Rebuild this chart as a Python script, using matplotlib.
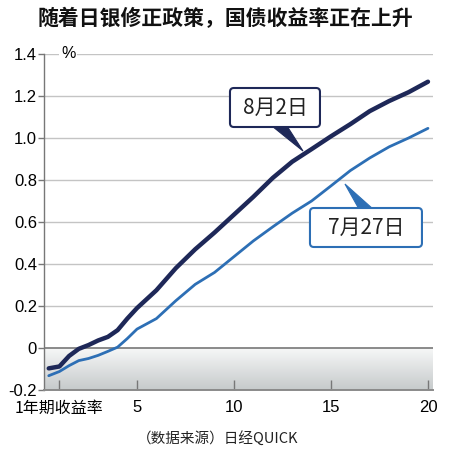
import numpy as np
import matplotlib
matplotlib.use("Agg")
import matplotlib.pyplot as plt
from matplotlib.patches import FancyBboxPatch, Polygon
from matplotlib.colors import LinearSegmentedColormap

plt.rcParams['font.family'] = ['Noto Sans CJK SC', 'DejaVu Sans']

# ---- data ----
maturity = [0.45, 1, 1.5, 2, 2.5, 3, 3.5, 4, 4.5, 5, 6, 7, 8, 9, 10,
            11, 12, 13, 14, 15, 16, 17, 18, 19, 20]
yield_aug2 = [-0.097, -0.088, -0.038, -0.004, 0.014, 0.036, 0.053, 0.085, 0.14,
              0.19, 0.275, 0.38, 0.47, 0.55, 0.635, 0.72, 0.81, 0.887, 0.947,
              1.008, 1.066, 1.128, 1.176, 1.218, 1.268]
yield_jul27 = [-0.132, -0.112, -0.084, -0.06, -0.05, -0.035, -0.016, 0.004, 0.045,
               0.09, 0.14, 0.225, 0.303, 0.36, 0.435, 0.51, 0.577, 0.642, 0.70,
               0.772, 0.845, 0.905, 0.958, 1.0, 1.046]
series_labels = ['8月2日', '7月27日']
xtick_pos = [1, 5, 10, 15, 20]
xtick_labels = ['1年期收益率', '5', '10', '15', '20']
ytick_pos = [-0.2, 0, 0.2, 0.4, 0.6, 0.8, 1.0, 1.2, 1.4]
ytick_labels = ['-0.2', '0', '0.2', '0.4', '0.6', '0.8', '1.0', '1.2', '1.4']
title = '随着日银修正政策，国债收益率正在上升'
source = '（数据来源）日经QUICK'

DARK = '#1e2858'
BLUE = '#2d6fb5'

fig = plt.figure(figsize=(4.5, 4.49), dpi=100)
ax = fig.add_axes([44/450, 1-390/449, (433-44)/450, (390-54)/449])
xmin, xmax = 0.206, 20.26
ax.set_xlim(xmin, xmax)
ax.set_ylim(-0.2, 1.4)

# gradient shading below zero
cmap = LinearSegmentedColormap.from_list('g', ['#c6cacb', '#f6f7f7'])
grad = np.linspace(0, 1, 100).reshape(-1, 1)
ax.imshow(grad, extent=[xmin, xmax, 0, -0.2], origin='upper', aspect='auto',
          cmap=cmap, zorder=0)

# gridlines
for y in ytick_pos[2:]:
    ax.axhline(y, color='#c4c4c4', lw=1.0, zorder=1)
ax.axhline(0, color='#8a8a8a', lw=1.4, zorder=2)

# lines
ax.plot(maturity, yield_jul27, color=BLUE, lw=2.0, solid_capstyle='round', zorder=4)
ax.plot(maturity, yield_aug2, color=DARK, lw=3.2, solid_capstyle='round', zorder=5)

# spines / ticks
for s in ['top', 'right']:
    ax.spines[s].set_visible(False)
ax.spines['left'].set_color('#777777')
ax.spines['left'].set_linewidth(1.0)
ax.spines['bottom'].set_color('#8a8a8a')
ax.spines['bottom'].set_linewidth(1.4)
ax.set_yticks(ytick_pos)
ax.set_yticklabels(ytick_labels, fontsize=12, family=['Liberation Sans', 'DejaVu Sans'])
ax.tick_params(axis='y', length=4, width=1, color='#777777', pad=1, direction='out')
ax.set_xticks(xtick_pos)
ax.set_xticklabels(xtick_labels, fontsize=11.5)
for lbl in ax.get_xticklabels()[1:]:
    lbl.set_family(['Liberation Sans', 'DejaVu Sans'])
    lbl.set_fontsize(12)
ax.tick_params(axis='x', length=7, width=1, color='#777777', pad=7, direction='in')

# percent label
ax.text(1.45, 1.4, '%', fontsize=11.5, va='center', ha='center',
        family=['Liberation Sans', 'DejaVu Sans'],
        bbox=dict(facecolor='white', edgecolor='none', pad=1.5), zorder=6)

def px2x(px):
    return 1 + (px - 59.4) / 19.4

def py2y(py):
    return (348 - py) / 210

def callout(box, wedge, text, color):
    x0, y0, x1, y1 = px2x(box[0]), py2y(box[3]), px2x(box[2]), py2y(box[1])
    poly = Polygon([(px2x(wedge[0][0]), py2y(wedge[0][1])),
                    (px2x(wedge[1][0]), py2y(wedge[1][1])),
                    (px2x(wedge[2][0]), py2y(wedge[2][1]))],
                   closed=True, facecolor=color, edgecolor=color, lw=0.8, zorder=7)
    ax.add_patch(poly)
    rect = FancyBboxPatch((x0, y0), x1 - x0, y1 - y0,
                          boxstyle='round,pad=0,rounding_size=0.2',
                          mutation_aspect=0.2 / 42 * 19.4,
                          facecolor='white', edgecolor=color, lw=1.5, zorder=8)
    ax.add_patch(rect)
    ax.text((x0 + x1) / 2, (y0 + y1) / 2, text, ha='center', va='center',
            fontsize=15, color='#222222', zorder=9)

callout((230, 88, 320, 127), [(272, 126), (287, 126), (303, 151)], series_labels[0], DARK)
callout((310, 208, 422, 247), [(359, 209), (373, 209), (345, 184)], series_labels[1], BLUE)

fig.text(225/450, 1-18/449, title, ha='center', va='center', fontsize=15,
         fontweight='bold', color='#111111')
fig.text(218/450, 1-438/449, source, ha='center', va='center', fontsize=10.5,
         color='#222222')

fig.savefig('out.png', dpi=100)
